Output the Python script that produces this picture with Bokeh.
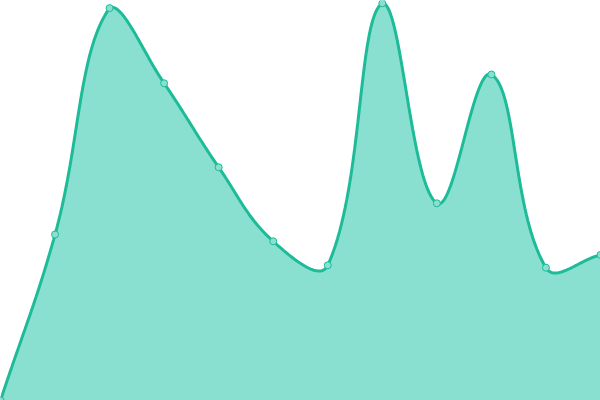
import numpy as np
from bokeh.plotting import figure
from bokeh.models import Range1d, ColumnDataSource
from bokeh.embed import file_html
from bokeh.resources import INLINE

# data
labels = list(range(12))
values = [0, 41.5, 98.1, 79.3, 58.3, 39.8, 33.8, 99.3, 49.3, 81.5, 33.2, 36.4]

W, H = 600, 400
YMIN, YMAX = 0, 100
XMIN, XMAX = 0, len(labels) - 1

def to_px(x, y):
    return (np.asarray(x, float) - XMIN) / (XMAX - XMIN) * W, H - (np.asarray(y, float) - YMIN) / (YMAX - YMIN) * H

def from_px(px, py):
    return px / W * (XMAX - XMIN) + XMIN, (H - py) / H * (YMAX - YMIN) + YMIN

# Chart.js-style spline (tension 0.4) rendering of the series
px, py = to_px(labels, values)
n = len(px)
t = 0.4
cp_prev = np.zeros((n, 2)); cp_next = np.zeros((n, 2))
for i in range(n):
    p0 = (px[max(i - 1, 0)], py[max(i - 1, 0)])
    p1 = (px[i], py[i])
    p2 = (px[min(i + 1, n - 1)], py[min(i + 1, n - 1)])
    d01 = np.hypot(p1[0] - p0[0], p1[1] - p0[1])
    d12 = np.hypot(p2[0] - p1[0], p2[1] - p1[1])
    s01 = d01 / (d01 + d12) if d01 + d12 else 0
    s12 = d12 / (d01 + d12) if d01 + d12 else 0
    fa, fb = t * s01, t * s12
    cp_prev[i] = (p1[0] - fa * (p2[0] - p0[0]), p1[1] - fa * (p2[1] - p0[1]))
    cp_next[i] = (p1[0] + fb * (p2[0] - p0[0]), p1[1] + fb * (p2[1] - p0[1]))
cp_prev[:, 0] = np.clip(cp_prev[:, 0], 0, W); cp_prev[:, 1] = np.clip(cp_prev[:, 1], 0, H)
cp_next[:, 0] = np.clip(cp_next[:, 0], 0, W); cp_next[:, 1] = np.clip(cp_next[:, 1], 0, H)

cx, cy = [], []
ss = np.linspace(0, 1, 40)
for i in range(n - 1):
    P0 = np.array([px[i], py[i]]); P1 = cp_next[i]; P2 = cp_prev[i + 1]; P3 = np.array([px[i + 1], py[i + 1]])
    s = ss if i == 0 else ss[1:]
    pts = ((1 - s) ** 3)[:, None] * P0 + (3 * (1 - s) ** 2 * s)[:, None] * P1 + (3 * (1 - s) * s ** 2)[:, None] * P2 + (s ** 3)[:, None] * P3
    cx.extend(pts[:, 0]); cy.extend(pts[:, 1])
curve_x, curve_y = from_px(np.array(cx), np.array(cy))

p = figure(width=W, height=H, output_backend="svg", toolbar_location=None,
           x_range=Range1d(XMIN, XMAX), y_range=Range1d(YMIN, YMAX),
           min_border=0, min_border_left=0, min_border_right=0,
           min_border_top=0, min_border_bottom=0)
p.axis.visible = False
p.grid.visible = False
p.outline_line_color = None
p.background_fill_color = "white"
p.border_fill_color = "white"

src = ColumnDataSource(dict(x=curve_x, y=curve_y, base=np.zeros_like(curve_x)))
p.varea(x="x", y1="base", y2="y", source=src, fill_color="#8ae0d0", fill_alpha=1.0)
p.line(x="x", y="y", source=src, line_color="#1dbb98", line_width=3)
p.scatter(x=labels, y=values, size=7, fill_color="#8ae0d0", line_color="#1dbb98", line_width=1)

html = file_html(p, INLINE)
html = html.replace("<head>", "<head><style>html,body{margin:0;padding:0;overflow:hidden;}</style>", 1)
open("out.html", "w").write(html)
